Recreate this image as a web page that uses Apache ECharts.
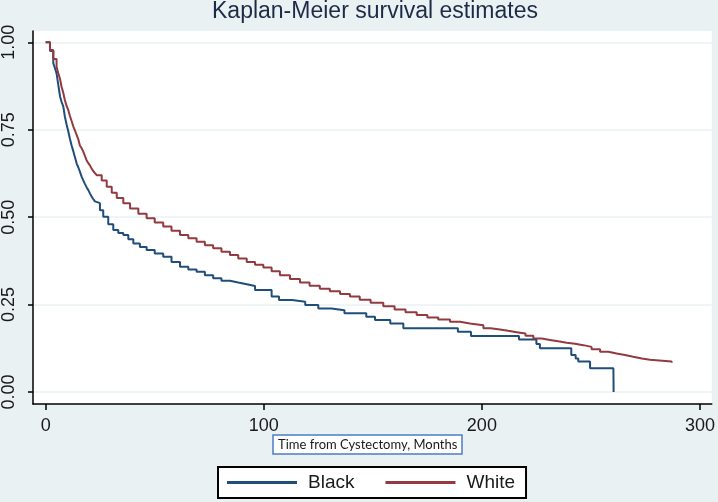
<!DOCTYPE html>
<html>
<head>
<meta charset="utf-8">
<script src="https://cdn.jsdelivr.net/npm/echarts@6/dist/echarts.min.js"></script>
<style>
html,body{margin:0;padding:0;background:#EAF1F3;}
#chart{width:718px;height:502px;}
</style>
</head>
<body>
<div id="chart"></div>
<script>
// ---- data ----
const chartTitle = 'Kaplan-Meier survival estimates';
const xAxisTitle = 'Time from Cystectomy, Months';
const seriesNames = ['Black', 'White'];
const xTicks = [0, 100, 200, 300];
const yTicks = [0, 0.25, 0.5, 0.75, 1];

const blackTime = [0, 2, 3.5, 4.3, 5, 5.8, 6.6, 7.3, 8.1, 8.8, 9.6, 10.4, 11.1, 11.9, 12.7, 13.5, 14.2, 15, 15.7, 16.5, 17.2, 18, 18.8, 19.5, 20.3, 21, 21.8, 22.6, 23.4, 24.9, 26.4, 28.7, 31, 33.3, 35.6, 37.9, 40.2, 43.2, 46.3, 50, 53.9, 57.7, 61.6, 65.4, 69.2, 73, 76.8, 80.6, 84.5, 88.3, 92.2, 96, 103.6, 107, 113, 119, 125, 131, 137, 147, 151, 158, 164, 189, 195, 217, 225, 226.6, 241, 243, 244.2, 249.6, 260.3, 260.4];
const blackSurv = [1, 0.975, 0.94, 0.925, 0.911, 0.878, 0.845, 0.83, 0.816, 0.788, 0.765, 0.745, 0.725, 0.705, 0.688, 0.67, 0.654, 0.642, 0.63, 0.616, 0.606, 0.595, 0.585, 0.578, 0.568, 0.56, 0.552, 0.545, 0.54, 0.52, 0.501, 0.48, 0.463, 0.455, 0.449, 0.437, 0.425, 0.415, 0.406, 0.396, 0.387, 0.372, 0.358, 0.35, 0.344, 0.334, 0.325, 0.318, 0.313, 0.308, 0.303, 0.292, 0.273, 0.263, 0.258, 0.249, 0.239, 0.234, 0.225, 0.215, 0.206, 0.196, 0.182, 0.172, 0.16, 0.15, 0.137, 0.125, 0.106, 0.096, 0.087, 0.068, 0.068, 0.0];

const whiteTime = [0, 2, 3.5, 5, 5.8, 6.6, 7.3, 8.1, 8.8, 9.6, 10.4, 11.1, 11.9, 12.7, 13.5, 14.2, 15, 15.7, 16.5, 17.2, 18, 18.8, 19.5, 20.3, 21, 21.8, 22.6, 23.4, 25.7, 28, 30.3, 32.6, 35.6, 38.7, 42.5, 46.3, 50, 53.9, 57.7, 61.6, 65.4, 69.2, 73, 76.8, 80.6, 84.5, 88.3, 92.2, 96, 99.8, 103.6, 107.4, 112, 116.6, 121, 125.7, 130.3, 135, 139.5, 144, 149, 154.8, 160, 165, 170.1, 175, 180, 185.4, 190, 194.5, 200.7, 204, 208.3, 212, 216, 220, 223.6, 227.4, 231.2, 235, 238.9, 242.7, 246.5, 250.3, 254.2, 258, 261.8, 265.6, 269.4, 273.3, 277.1, 287];
const whiteSurv = [1, 0.978, 0.952, 0.93, 0.911, 0.895, 0.873, 0.855, 0.835, 0.818, 0.806, 0.79, 0.775, 0.759, 0.747, 0.735, 0.722, 0.705, 0.697, 0.688, 0.675, 0.662, 0.655, 0.648, 0.64, 0.632, 0.626, 0.62, 0.605, 0.587, 0.57, 0.555, 0.54, 0.525, 0.51, 0.497, 0.485, 0.473, 0.461, 0.449, 0.44, 0.43, 0.42, 0.411, 0.401, 0.392, 0.382, 0.372, 0.364, 0.356, 0.345, 0.334, 0.323, 0.313, 0.304, 0.295, 0.288, 0.28, 0.273, 0.264, 0.255, 0.245, 0.236, 0.228, 0.22, 0.213, 0.207, 0.201, 0.196, 0.191, 0.182, 0.179, 0.175, 0.171, 0.167, 0.161, 0.153, 0.149, 0.145, 0.141, 0.138, 0.134, 0.129, 0.122, 0.115, 0.11, 0.106, 0.101, 0.096, 0.092, 0.087, 0.084];

// ---- chart ----
const pair = (t, s) => t.map((v, i) => [v, s[i]]);
const colors = ['#1F4E7A', '#923A40'];
const lblFont = 'Liberation Sans, Arial, sans-serif';

const chart = echarts.init(document.getElementById('chart'), null, {renderer: 'canvas'});
chart.setOption({
  animation: false,
  backgroundColor: '#EAF1F3',
  title: [{
    text: chartTitle,
    left: 212, top: 0, padding: 0,
    textStyle: {fontFamily: lblFont, fontSize: 23, fontWeight: 'normal', color: '#1d2b47'}
  }, {
    text: xAxisTitle,
    left: 273, top: 435,
    padding: [3, 5, 3, 5],
    backgroundColor: '#ffffff',
    borderColor: '#4A7EC4', borderWidth: 1.5,
    textStyle: {fontFamily: 'Lato, sans-serif', fontSize: 13, fontWeight: 'normal', color: '#1a1a1a'}
  }],
  legend: {
    data: seriesNames,
    left: 218, top: 467,
    padding: [6, 11, 6, 9],
    itemGap: 31,
    itemWidth: 70, itemHeight: 3,
    icon: 'rect',
    backgroundColor: '#ffffff',
    borderColor: '#000000', borderWidth: 2, borderRadius: 0,
    textStyle: {fontFamily: lblFont, fontSize: 19, color: '#1a1a1a', padding: [0, 0, 0, 6]}
  },
  grid: {left: 33, right: 6, top: 31, bottom: 98, show: true, backgroundColor: '#ffffff', borderWidth: 0, containLabel: false},
  xAxis: {
    type: 'value', min: -5.8, max: 305.4,
    axisLine: {show: true, onZero: false, lineStyle: {color: '#000', width: 1.5}},
    axisTick: {show: true, length: 6, customValues: xTicks, lineStyle: {color: '#000', width: 1.5}},
    axisLabel: {customValues: xTicks, margin: 13, fontFamily: lblFont, fontSize: 18, color: '#1a1a1a'},
    splitLine: {show: false}
  },
  yAxis: {
    type: 'value', min: -0.0343, max: 1.0323,
    axisLine: {show: true, onZero: false, lineStyle: {color: '#000', width: 1.5}},
    axisTick: {show: true, length: 5, customValues: yTicks, lineStyle: {color: '#000', width: 1.5}},
    axisLabel: {customValues: yTicks, rotate: 90, margin: 15, fontFamily: lblFont, fontSize: 18, color: '#1a1a1a',
      formatter: v => v.toFixed(2)},
    splitLine: {show: true, lineStyle: {color: '#EAF2F4', width: 1.5}}
  },
  series: [{
    name: seriesNames[0], type: 'line', step: 'end', showSymbol: false,
    data: pair(blackTime, blackSurv),
    lineStyle: {color: colors[0], width: 2}, itemStyle: {color: colors[0]}
  }, {
    name: seriesNames[1], type: 'line', step: 'end', showSymbol: false,
    data: pair(whiteTime, whiteSurv),
    lineStyle: {color: colors[1], width: 2}, itemStyle: {color: colors[1]}
  }]
});
</script>
</body>
</html>
